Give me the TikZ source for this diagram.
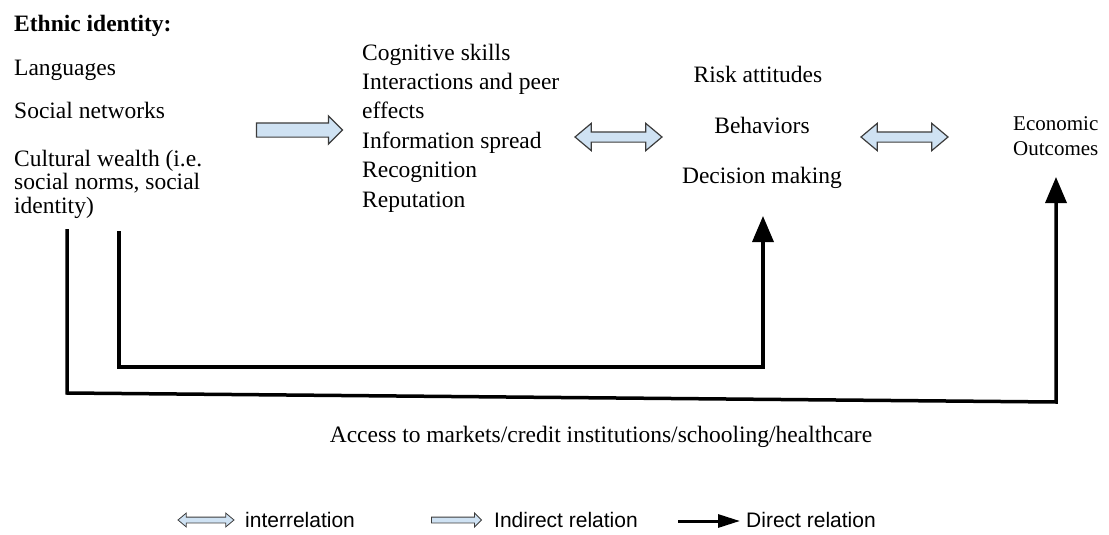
\documentclass[tikz,border=0pt]{standalone}
\usepackage{fontspec}
\setmainfont{Liberation Serif}
\newfontfamily\legendfont{Liberation Sans}
\usetikzlibrary{shapes.arrows,arrows.meta}
\definecolor{arrowfill}{HTML}{CFE2F3}
\definecolor{arrowdraw}{HTML}{3C3C3C}

\begin{document}
\begin{tikzpicture}[x=1pt, y=-1pt,
	txt/.style={
		anchor=base west, inner sep=0pt, align=left,
		font=\fontsize{23.5}{23.5}\selectfont
	},
	indirect/.style={
		single arrow, draw=arrowdraw, fill=arrowfill, line width=1.2pt,
		single arrow head extend=7pt, single arrow tip angle=90,
		minimum height=86pt, inner xsep=0pt, inner ysep=6.5pt
	},
	interrel/.style={
		double arrow, draw=arrowdraw, fill=arrowfill, line width=1.2pt,
		double arrow head extend=8.5pt, double arrow tip angle=80,
		minimum height=87pt, inner xsep=0pt, inner ysep=4.5pt
	},
	direct/.style={draw, line width=3.5pt, -{Triangle[length=26pt, width=21pt]}},
	legend/.style={anchor=base west, inner sep=0pt, font=\legendfont\fontsize{21}{24}\selectfont},
	]
	\useasboundingbox (0,0) rectangle (1109,535);

	% ethnic identity (multi-line nodes sit on their last baseline)
	\node [txt, font=\bfseries\fontsize{23.5}{24}\selectfont] (eth) at (14,32) {Ethnic identity:};
	\node [txt] (lang) at (14,76) {Languages};
	\node [txt] (net) at (14,118) {Social networks};
	\node [txt] (cult) at (14,213) {Cultural wealth (i.e.\\social norms, social\\identity)};

	% channels
	\node [txt, font=\fontsize{23.5}{29.4}\selectfont] (chan) at (362,207)
		{Cognitive skills\\Interactions and peer\\effects\\Information spread\\Recognition\\Reputation};

	% behaviours and outcomes
	\node [txt, anchor=base] (risk) at (758,82) {Risk attitudes};
	\node [txt, anchor=base] (behav) at (762,133) {Behaviors};
	\node [txt, anchor=base] (dec) at (762,183) {Decision making};
	\node [txt, font=\fontsize{21}{25}\selectfont] (econ) at (1013,155) {Economic\\Outcomes};

	\node [indirect] (a1) at (296,130) {};
	\node [interrel] (a2) at (618.5,137) {};
	\node [interrel] (a3) at (904.5,137) {};

	% direct links
	\coordinate (s1) at (119,231);
	\coordinate (t1) at (763,216);
	\coordinate (s2) at (67,229);
	\coordinate (t2) at (1056,177);
	\draw [direct] (s1) -- (119,367) -| (t1);
	\draw [direct] (s2) -- (67,393) -- (1056,402) -- (t2);
	\node [txt, anchor=base] (acc) at (601,442)
		{Access to markets/credit institutions/schooling/healthcare};

	% legend
	\node [interrel, minimum height=56pt, double arrow head extend=4pt,
		inner ysep=2.5pt, line width=0.8pt] (k1) at (206,520) {};
	\node [legend] (k1t) at (245,527) {interrelation};
	\node [indirect, minimum height=50pt, single arrow head extend=4pt,
		inner ysep=2.5pt, line width=0.8pt] (k2) at (455,520) {};
	\node [legend] (k2t) at (494,527) {Indirect relation};
	\coordinate (k3s) at (678,521);
	\coordinate (k3e) at (740,521);
	\draw [direct, line width=3pt, -{Triangle[length=22pt, width=13pt]}] (k3s) -- (k3e);
	\node [legend] (k3t) at (746,527) {Direct relation};
\end{tikzpicture}
\end{document}
